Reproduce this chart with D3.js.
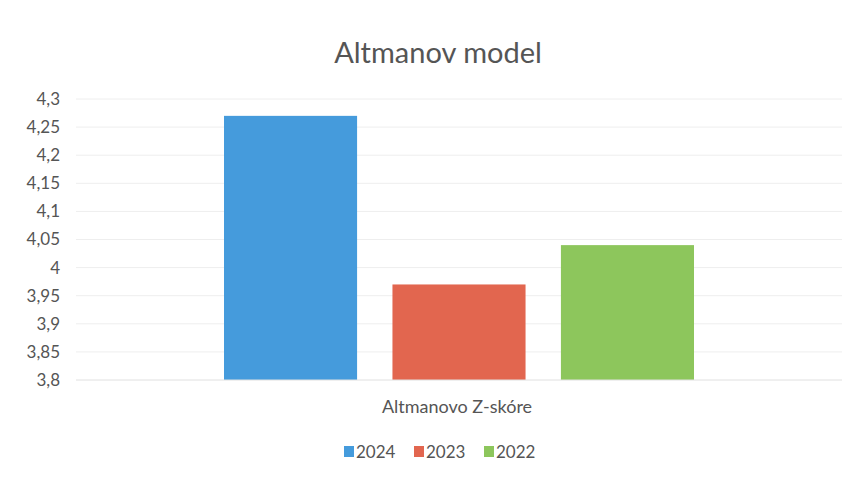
<!DOCTYPE html>
<html>
<head>
<meta charset="utf-8">
<title>Altmanov model</title>
<script src="https://d3js.org/d3.v7.min.js"></script>
<style>
    body { margin: 0; background: #fff; }
    text { font-family: "Lato", "Open Sans", sans-serif; fill: #555; }
</style>
</head>
<body>
<script>
var series = ["2024", "2023", "2022"];
var values = [4.27, 3.97, 4.04];
var colors = ["#459bdc", "#e2664f", "#8dc65c"];
var category = "Altmanovo Z-skóre";
var yTicks = [3.8, 3.85, 3.9, 3.95, 4, 4.05, 4.1, 4.15, 4.2, 4.25, 4.3];

var width = 852, height = 477;
var plot = { left: 76, right: 842, top: 99, bottom: 380 };

var svg = d3.select("body").append("svg")
    .attr("width", width)
    .attr("height", height);

var y = d3.scaleLinear()
    .domain([3.8, 4.3])
    .range([plot.bottom, plot.top]);

// bars of the single category sit centred in the plot area
var center = (plot.left + plot.right) / 2;
var groupWidth = 470;
var x = d3.scaleBand()
    .domain(series)
    .range([center - groupWidth / 2, center + groupWidth / 2])
    .paddingInner(0.21)
    .paddingOuter(0);

var fmt = function(d) { return String(d).replace(".", ","); };

// gridlines
svg.append("g").selectAll("line")
    .data(yTicks.slice(1))
    .enter().append("line")
    .attr("x1", plot.left).attr("x2", plot.right)
    .attr("y1", function(d) { return y(d); })
    .attr("y2", function(d) { return y(d); })
    .attr("stroke", "#eeeeee")
    .attr("stroke-width", 1);

// y axis labels
var yAxis = d3.axisLeft(y)
    .tickValues(yTicks)
    .tickFormat(fmt)
    .tickSize(0)
    .tickPadding(0);
var ya = svg.append("g")
    .attr("transform", "translate(" + 60 + ",0)")
    .call(yAxis);
ya.select(".domain").remove();
ya.selectAll("text")
    .style("font-size", "17px")
    .attr("fill", "#555");

// bars
svg.append("g").selectAll("rect")
    .data(values)
    .enter().append("rect")
    .attr("x", function(d, i) { return x(series[i]); })
    .attr("width", x.bandwidth())
    .attr("y", function(d) { return y(d); })
    .attr("height", function(d) { return y(3.8) - y(d); })
    .attr("fill", function(d, i) { return colors[i]; });

// category axis line
svg.append("line")
    .attr("x1", plot.left).attr("x2", plot.right)
    .attr("y1", y(3.8)).attr("y2", y(3.8))
    .attr("stroke", "#e0e0e0");

// title
svg.append("text")
    .attr("x", 438).attr("y", 63)
    .attr("text-anchor", "middle")
    .style("font-size", "29px")
    .text("Altmanov model");

// category label
svg.append("text")
    .attr("x", 457).attr("y", 413)
    .attr("text-anchor", "middle")
    .style("font-size", "18px")
    .text(category);

// legend
var legendX = [344, 414, 484];
var lg = svg.append("g").selectAll("g")
    .data(series)
    .enter().append("g")
    .attr("transform", function(d, i) { return "translate(" + legendX[i] + ",446)"; });
lg.append("rect")
    .attr("width", 10).attr("height", 11)
    .attr("fill", function(d, i) { return colors[i]; });
lg.append("text")
    .attr("x", 12).attr("y", 12)
    .style("font-size", "17px")
    .text(function(d) { return d; });
</script>
</body>
</html>
